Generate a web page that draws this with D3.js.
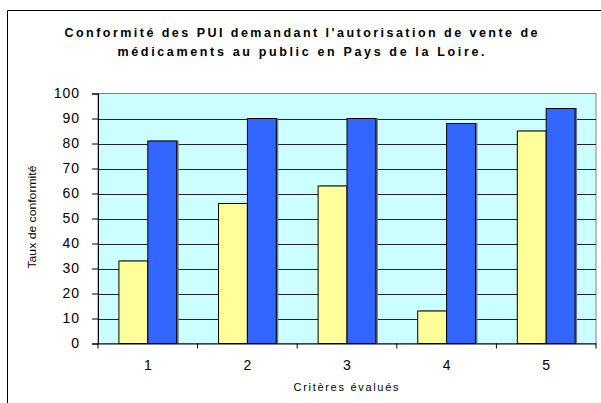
<!DOCTYPE html>
<html><head><meta charset="utf-8">
<script src="https://cdn.jsdelivr.net/npm/d3@7"></script>
<style>body{margin:0;background:#fff}svg{display:block}text{font-family:"Liberation Sans",Arial,sans-serif}</style>
</head><body>
<script>
const categories = ["1","2","3","4","5"];
const seriesYellow = [33,56,63,13,85];
const seriesBlue = [81,90,90,88,94];
const yTicks = [0,10,20,30,40,50,60,70,80,90,100];
const titleLines = ["Conformité des PUI demandant l'autorisation de vente de","médicaments au public en Pays de la Loire."];
const xTitle = "Critères évalués";
const yTitle = "Taux de conformité";

const W=601,H=403;
const svg=d3.select("body").append("svg").attr("width",W).attr("height",H);
svg.append("rect").attr("width",W).attr("height",H).attr("fill","#fff");
// outer frame (cropped)
svg.append("path").attr("d","M7.5,403V10.5H601").attr("fill","none").attr("stroke","#000").attr("stroke-width",1);

const L=98,R=596,T=93.5,B=343.5;
const x=d3.scaleBand().domain(categories).range([L,R]).paddingInner(0.42).paddingOuter(0.21);
const x1=d3.scaleBand().domain(["y","b"]).range([0,x.bandwidth()]);
const y=d3.scaleLinear().domain([0,100]).range([B,T]);

svg.append("rect").attr("x",L).attr("y",T).attr("width",R-L).attr("height",B-T).attr("fill","#CCFFFF").attr("stroke","#808080").attr("stroke-width",1);
svg.append("g").selectAll("line").data(yTicks.filter(d=>d>0&&d<100)).join("line")
 .attr("x1",L).attr("x2",R).attr("y1",d=>Math.round(y(d))+0.5).attr("y2",d=>Math.round(y(d))+0.5).attr("stroke","#222").attr("stroke-width",1);

const data=categories.map((c,i)=>({c,vals:[{k:"y",v:seriesYellow[i]},{k:"b",v:seriesBlue[i]}]}));
const colors={y:"#FFFF99",b:"#3366FF"};
const g=svg.append("g");
const grp=g.selectAll("g").data(data).join("g").attr("transform",d=>`translate(${x(d.c)},0)`);
grp.selectAll("rect.sh").data(d=>d.vals).join("rect").attr("class","sh")
 .attr("x",d=>x1(d.k)+2).attr("y",d=>y(d.v)-0.5).attr("width",x1.bandwidth()).attr("height",d=>B-y(d.v)).attr("fill","#777");
grp.selectAll("rect.bar").data(d=>d.vals).join("rect").attr("class","bar")
 .attr("x",d=>x1(d.k)).attr("y",d=>y(d.v)).attr("width",x1.bandwidth()).attr("height",d=>B-y(d.v))
 .attr("fill",d=>colors[d.k]).attr("stroke","#000").attr("stroke-width",1);

// axes
const ya=svg.append("g").attr("transform",`translate(${L},0)`).call(d3.axisLeft(y).tickValues(yTicks).tickSize(6).tickPadding(12));
ya.select(".domain").attr("stroke","#000");
ya.selectAll("text").attr("font-size",14).attr("letter-spacing","1px").attr("fill","#000");
const xa=svg.append("g").attr("transform",`translate(0,${B})`).call(d3.axisBottom(x).tickSize(0).tickPadding(17));
xa.select(".domain").attr("stroke","#000");
xa.selectAll("text").attr("font-size",14).attr("fill","#000");
svg.append("g").selectAll("line").data(d3.range(categories.length+1)).join("line")
 .attr("x1",i=>L+i*(R-L)/categories.length).attr("x2",i=>L+i*(R-L)/categories.length).attr("y1",B).attr("y2",B+5).attr("stroke","#000");

// titles
svg.append("text").attr("x",301).attr("y",37).attr("text-anchor","middle").attr("font-size",12.5).attr("font-weight","bold")
 .attr("textLength",473).attr("lengthAdjust","spacing").text(titleLines[0]);
svg.append("text").attr("x",301).attr("y",56).attr("text-anchor","middle").attr("font-size",12.5).attr("font-weight","bold")
 .attr("textLength",367).attr("lengthAdjust","spacing").text(titleLines[1]);
svg.append("text").attr("x",346).attr("y",391).attr("text-anchor","middle").attr("font-size",11)
 .attr("textLength",105).attr("lengthAdjust","spacing").text(xTitle);
svg.append("text").attr("transform","translate(36,217) rotate(-90)").attr("text-anchor","middle").attr("font-size",11.5)
 .attr("textLength",103).attr("lengthAdjust","spacingAndGlyphs").text(yTitle);
</script>
</body></html>
